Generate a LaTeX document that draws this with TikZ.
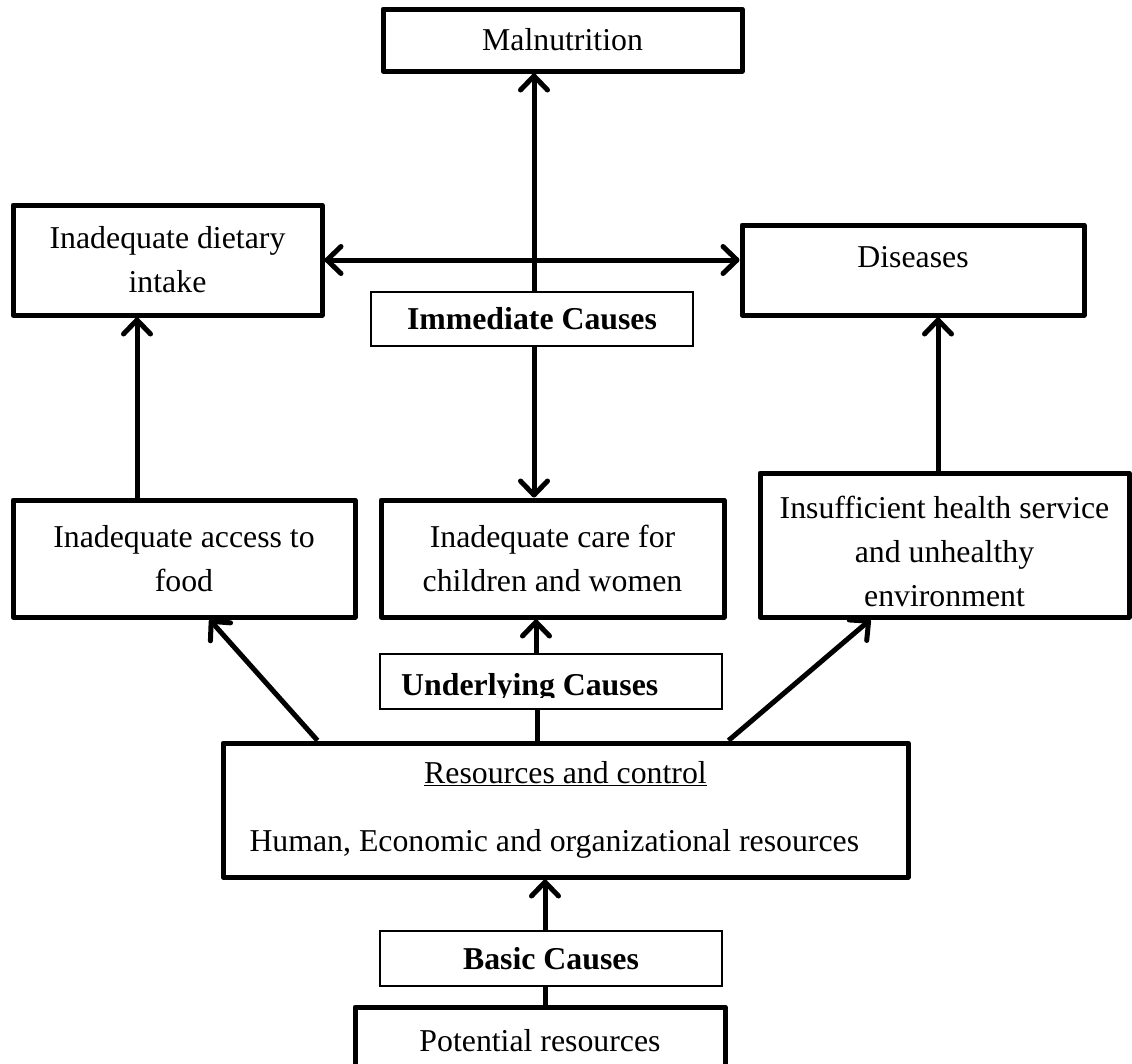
\documentclass[tikz,border=0pt]{standalone}
\usepackage{fontspec}
\setmainfont{Liberation Serif}
\usetikzlibrary{arrows.meta}

\begin{document}
\begin{tikzpicture}[x=1pt,y=-1pt,
  font=\fontsize{31.8}{44}\selectfont,
  box/.style={draw,line width=5pt,line join=round,inner sep=4pt,align=center,fill=white},
  tag/.style={draw,line width=1.2pt,inner sep=4pt,fill=white,font=\fontsize{31.8}{44}\selectfont\bfseries},
  link/.style={line width=5pt},
  arr/.style={link,-{Straight Barb[length=14pt,width=27pt,round]}},
  dbl/.style={link,{Straight Barb[length=14pt,width=27pt,round]}-{Straight Barb[length=14pt,width=27pt,round]}}]
\useasboundingbox (0,0) rectangle (1132,1063);
\node[box,minimum width=359pt,minimum height=62pt] (mal) at (562.5,40) {Malnutrition};
\node[box,minimum width=309pt,minimum height=110pt] (diet) at (167.5,260) {Inadequate dietary\\intake};
\node[box,minimum width=342pt,minimum height=90pt] (dis) at (913,270) {\raisebox{13pt}[\height][\depth]{Diseases}};
\node[box,minimum width=342pt,minimum height=117pt] (food) at (184,558.5) {Inadequate access to\\food};
\node[box,minimum width=343pt,minimum height=117pt] (care) at (552.5,558.5) {Inadequate care for\\children and women};
\node[box,minimum width=369pt,minimum height=144pt] (health) at (944.5,545) {\rule{0pt}{36pt}Insufficient health service\\and unhealthy\\environment};
\draw[dbl] ([xshift=-28.5pt]mal.south) -- ([xshift=-28.5pt]mal.south |- care.north);
\draw[dbl] (diet.east) -- (diet.east -| dis.west);
\node[tag,minimum width=322pt,minimum height=54pt] (imm) at (532,319) {Immediate Causes};
\node[tag,minimum width=342pt,minimum height=55pt] (und) at (551,681.5) {};
\begin{scope}
  \clip (380,650) rectangle (722,697);
  \node[font=\fontsize{31.8}{44}\selectfont\bfseries,inner sep=0pt,anchor=base west] (undtxt) at (401,695) {Underlying Causes};
\end{scope}
\node[box,minimum width=685pt,minimum height=134pt] (res) at (565.5,810) {\underline{Resources and control}\\[24pt]\hbox to 632pt{Human, Economic and organizational resources\hfil}};
\node[tag,minimum width=342pt,minimum height=55pt] (basic) at (551,958.5) {Basic Causes};
\node[box,minimum width=370pt,minimum height=68pt] (pot) at (540,1041) {Potential resources};
\draw[arr] ([xshift=-47pt]food.north) -- ([xshift=-47pt]food.north |- diet.south);
\draw[arr] ([xshift=-6.5pt]health.north) -- ([xshift=-6.5pt]health.north |- dis.south);
\draw[arr] ([xshift=-15pt]und.north) -- ([xshift=-15pt]und.north |- care.south);
\draw[link] ([xshift=-14pt]und.south) -- ([xshift=-14pt]und.south |- res.north);
\draw[arr] ([xshift=97pt]res.north west) -- ([xshift=-148pt]food.south east);
\draw[arr] ([xshift=-182pt]res.north east) -- ([xshift=113pt]health.south west);
\draw[arr] ([xshift=-6pt]basic.north) -- ([xshift=-6pt]basic.north |- res.south);
\draw[link] ([xshift=-6pt]basic.south) -- ([xshift=-6pt]basic.south |- pot.north);
\end{tikzpicture}
\end{document}
